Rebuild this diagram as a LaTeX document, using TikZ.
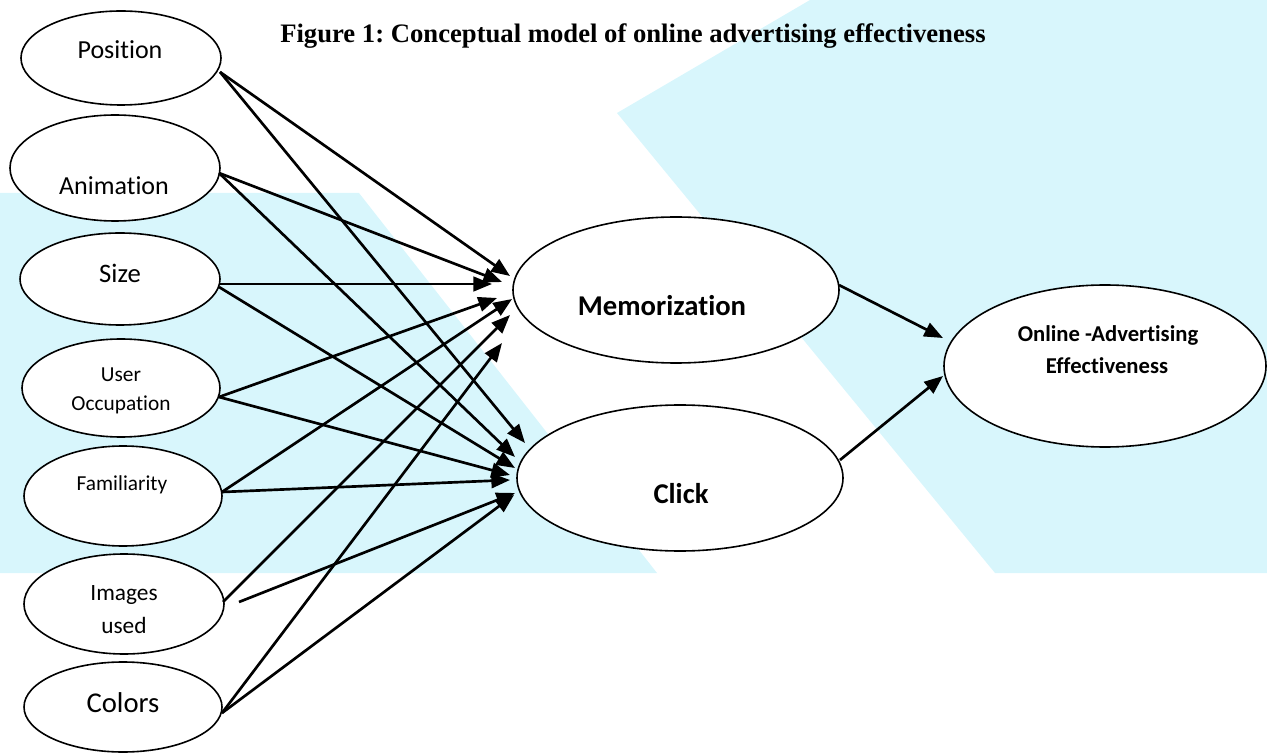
\documentclass[tikz,border=0pt]{standalone}
\usepackage{fontspec}
\setmainfont{Carlito}[Ligatures={NoCommon}]
\newfontfamily\titlefont{Liberation Serif}
\usetikzlibrary{shapes.geometric,arrows.meta,calc}
\definecolor{wm}{RGB}{216,246,252}
\frenchspacing
\begin{document}
\begin{tikzpicture}[x=0.75pt,y=-0.75pt,
  oval/.style={ellipse,draw,line width=1.2pt,fill=white,inner sep=0pt},
  arr/.style={line width=2pt,-{Triangle[length=14pt,width=11pt]}},
  lab/.style={anchor=base,inner sep=0pt},
]
\useasboundingbox (0,0) rectangle (1267,755);
% watermark background
\fill[wm] (0,193) -- (359,193) -- (657,573) -- (0,573) -- cycle;
\fill[wm] (617,113) -- (810,0) -- (1267,0) -- (1267,573) -- (995,573) -- cycle;

% title
\node[anchor=base west,inner sep=0pt] (title) at (280,43)
  {\titlefont\bfseries\fontsize{20}{24}\selectfont Figure 1: Conceptual model of online advertising effectiveness};

% source ellipses
\node[oval,minimum width=150pt,minimum height=70.5pt] (pos) at (121,58) {};
\node[oval,minimum width=157.5pt,minimum height=79.5pt] (ani) at (115,168) {};
\node[oval,minimum width=150pt,minimum height=69pt] (siz) at (120,279) {};
\node[oval,minimum width=148.5pt,minimum height=73.5pt] (usr) at (121,388) {};
\node[oval,minimum width=148.5pt,minimum height=75pt] (fam) at (123,496) {};
\node[oval,minimum width=150pt,minimum height=75pt] (img) at (124,604) {};
\node[oval,minimum width=148.5pt,minimum height=67.5pt] (col) at (123,707) {};
% target ellipses
\node[oval,minimum width=244.5pt,minimum height=109.5pt] (mem) at (676,290) {};
\node[oval,minimum width=244.5pt,minimum height=109.5pt] (clk) at (680,478) {};
\node[oval,minimum width=241.5pt,minimum height=121.5pt] (onl) at (1105,366) {};

% labels
\node[lab] (tpos) at (120,59) {\fontsize{19.5}{23}\selectfont Position};
\node[lab] (tani) at (114,195) {\fontsize{19.5}{23}\selectfont Animation};
\node[lab] (tsiz) at (120,283) {\fontsize{20}{24}\selectfont Size};
\node[lab] (tusr1) at (121,382) {\fontsize{16}{20}\selectfont User};
\node[lab] (tusr2) at (121,411) {\fontsize{16}{20}\selectfont Occupation};
\node[lab] (tfam) at (122,490) {\fontsize{16}{20}\selectfont Familiarity};
\node[lab] (timg1) at (124,600) {\fontsize{17.5}{21}\selectfont Images};
\node[lab] (timg2) at (124,633) {\fontsize{17.5}{21}\selectfont used};
\node[lab] (tcol) at (123,712) {\fontsize{21.5}{26}\selectfont Colors};
\node[lab] (tmem) at (662,316) {\bfseries\fontsize{21.5}{26}\selectfont Memorization};
\node[lab] (tclk) at (681,503) {\bfseries\fontsize{21.5}{26}\selectfont Click};
\node[lab] (tonl1) at (1108,342) {\bfseries\fontsize{17}{20}\selectfont Online -Advertising};
\node[lab] (tonl2) at (1107,374) {\bfseries\fontsize{17}{20}\selectfont Effectiveness};

\coordinate (imgfree) at (239,602);

% arrows into Memorization
\draw[arr] ($(pos.center)+(99,14)$) -- ($(mem.center)+(-166,-14)$);
\draw[arr] ($(ani.center)+(104,5)$) -- ($(mem.center)+(-174,-8)$);
\draw[arr] ($(siz.center)+(100,5)$) -- ($(mem.center)+(-184,-6)$);
\draw[arr] ($(usr.center)+(98,9)$) -- ($(mem.center)+(-179,8)$);
\draw[arr] ($(fam.center)+(99,-4)$) -- ($(mem.center)+(-164,9)$);
\draw[arr] ($(img.center)+(99,-2)$) -- ($(mem.center)+(-166,25)$);
\draw[arr] ($(col.center)+(99,6)$) -- ($(mem.center)+(-174,53)$);
% arrows into Click
\draw[arr] ($(pos.center)+(99,14)$) -- ($(clk.center)+(-155,-35)$);
\draw[arr] ($(ani.center)+(104,5)$) -- ($(clk.center)+(-165,-21)$);
\draw[arr] ($(siz.center)+(99,8)$) -- ($(clk.center)+(-165,-10)$);
\draw[arr] ($(usr.center)+(98,9)$) -- ($(clk.center)+(-170,-3)$);
\draw[arr] ($(fam.center)+(99,-4)$) -- ($(clk.center)+(-170,2)$);
\draw[arr] (imgfree) -- ($(clk.center)+(-165,15)$);
\draw[arr] ($(col.center)+(99,6)$) -- ($(clk.center)+(-166,17)$);
% arrows into Online
\draw[arr] ($(mem.center)+(163,-5)$) -- ($(onl.center)+(-162,-28)$);
\draw[arr] ($(clk.center)+(160,-18)$) -- ($(onl.center)+(-162,10)$);
\end{tikzpicture}
\end{document}
